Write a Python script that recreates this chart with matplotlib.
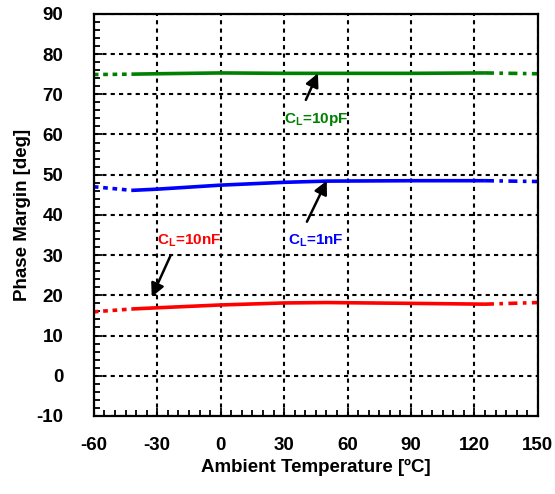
import matplotlib.pyplot as plt
from matplotlib.ticker import MultipleLocator

plt.rcParams['font.family'] = ['Liberation Sans', 'DejaVu Sans']
plt.rcParams['mathtext.fontset'] = 'custom'
plt.rcParams['mathtext.bf'] = 'Liberation Sans:bold'
plt.rcParams['mathtext.rm'] = 'Liberation Sans:bold'
plt.rcParams['axes.unicode_minus'] = False

# measured data (solid part) and extrapolated ends
temp = [-42, -30, 0, 30, 50, 90, 125]
pm_10pf = [75.0, 75.1, 75.3, 75.2, 75.2, 75.2, 75.3]
pm_1nf = [46.1, 46.4, 47.4, 48.1, 48.4, 48.5, 48.5]
pm_10nf = [16.6, 16.9, 17.6, 18.1, 18.2, 18.0, 17.8]

ext_lo = [-60, -42]
ext_hi = [125, 150]
lo_10pf, hi_10pf = [74.9, 75.0], [75.3, 75.1]
lo_1nf, hi_1nf = [47.0, 46.1], [48.5, 48.3]
lo_10nf, hi_10nf = [15.9, 16.6], [17.8, 18.2]

series = [
    (pm_10pf, lo_10pf, hi_10pf, '#008000'),
    (pm_1nf, lo_1nf, hi_1nf, '#0000ff'),
    (pm_10nf, lo_10nf, hi_10nf, '#ff0000'),
]

fig = plt.figure(figsize=(5.55, 4.94), dpi=100)
ax = fig.add_axes([0.169, 0.158, 0.8, 0.814])

for pm, lo, hi, c in series:
    ax.plot(temp, pm, color=c, lw=2.6, solid_capstyle='butt')
    ax.plot(ext_lo, lo, color=c, lw=2.6, ls=(0, (1.3, 1.3)))
    ax.plot(ext_hi, hi, color=c, lw=2.6, ls=(0, (2.5, 1.5, 1.0, 1.5)))

ann = [
    (r'C$_\mathrm{L}$=10pF', (46, 75.2), (40.3, 68.6), (45, 63.8), '#008000'),
    (r'C$_\mathrm{L}$=1nF', (50.2, 48.5), (40.8, 38.3), (45, 33.5), '#0000ff'),
    (r'C$_\mathrm{L}$=10nF', (-32.6, 19.6), (-23.6, 30.0), (-15, 33.5), '#ff0000'),
]
for txt, tip, tail, pos, c in ann:
    ax.annotate('', xy=tip, xytext=tail,
                arrowprops=dict(arrowstyle='-|>', color='black', lw=1.8,
                                mutation_scale=20, shrinkA=0, shrinkB=0))
    ax.text(pos[0], pos[1], txt, color=c, fontsize=11, fontweight='bold',
            ha='center', va='center')

ax.set_xlim(-60, 150)
ax.set_ylim(-10, 90)
ax.xaxis.set_major_locator(MultipleLocator(30))
ax.xaxis.set_minor_locator(MultipleLocator(5))
ax.yaxis.set_major_locator(MultipleLocator(10))
ax.yaxis.set_minor_locator(MultipleLocator(2))
ax.grid(True, which='major', color='black', ls=(0, (2, 2)), lw=1.5)
ax.tick_params(which='both', direction='in', top=False, right=False,
               width=1.3, labelsize=13.5)
ax.tick_params(which='major', length=6)
ax.tick_params(which='minor', length=4)
ax.tick_params(axis='x', pad=15)
ax.tick_params(axis='y', pad=22)
for lbl in ax.get_xticklabels() + ax.get_yticklabels():
    lbl.set_fontweight('bold')
for sp in ax.spines.values():
    sp.set_linewidth(1.6)

ax.set_xlabel('Ambient Temperature [ºC]', fontsize=13.5, fontweight='bold')
ax.set_ylabel('Phase Margin [deg]', fontsize=13.5, fontweight='bold')

fig.savefig('out.png', dpi=100)
